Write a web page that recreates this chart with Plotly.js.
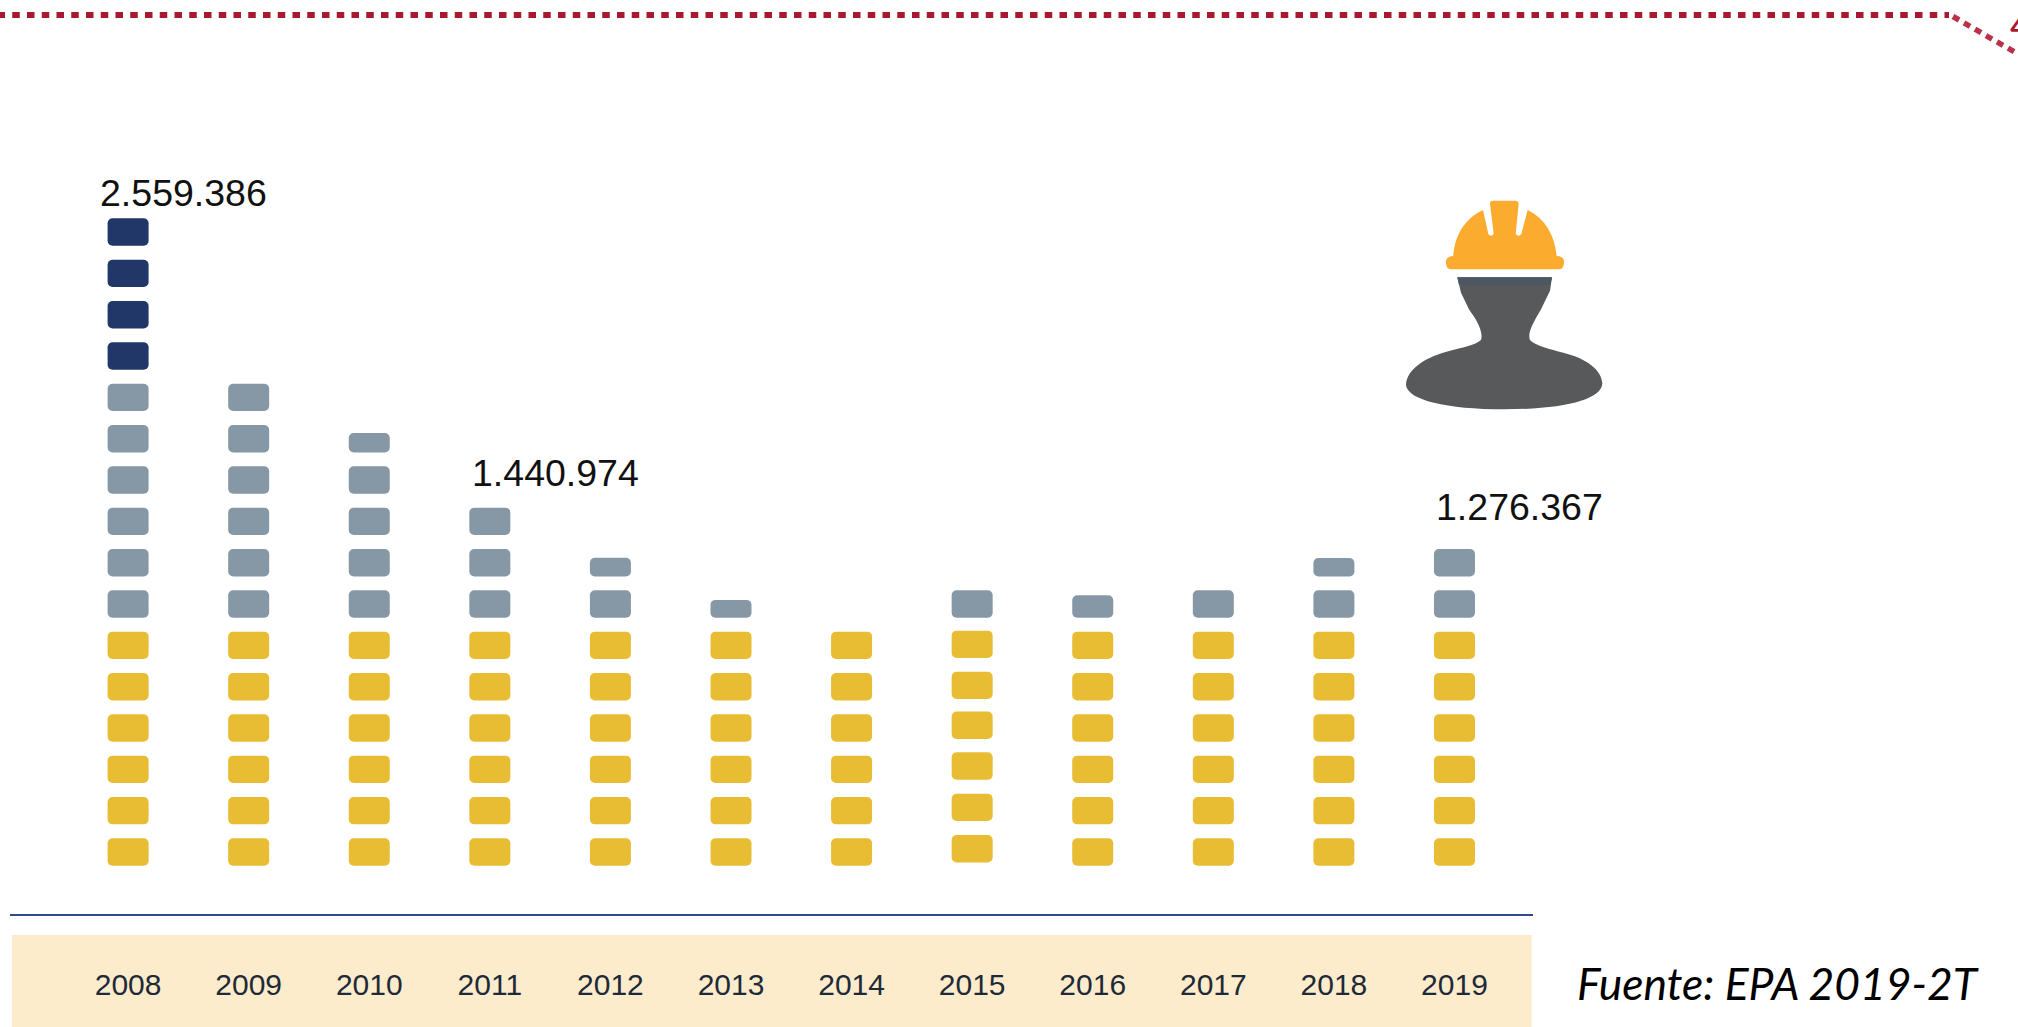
<!DOCTYPE html>
<html>
<head>
<meta charset="utf-8">
<script src="https://cdn.plot.ly/plotly-3.0.1.min.js"></script>
<style>html,body{margin:0;padding:0;background:#fff;overflow:hidden}#chart{width:2018px;height:1027px}</style>
</head>
<body>
<div id="chart"></div>
<script>
// Each full square stands for about 160.000 people; a fraction is a partly filled square.
const years = [2008, 2009, 2010, 2011, 2012, 2013, 2014, 2015, 2016, 2017, 2018, 2019];
const yellowUnits = [6, 6, 6, 6, 6, 6, 6, 6, 6, 6, 6, 6];
const greyUnits = [6, 6, 4.71, 3, 1.68, 0.65, 0, 1, 0.82, 1, 1.67, 2];
const navyUnits = [4, 0, 0, 0, 0, 0, 0, 0, 0, 0, 0, 0];
const labelYears = [2008, 2011, 2019];
const labelTexts = ['2.559.386', '1.440.974', '1.276.367'];
const sourceText = 'Fuente: EPA 2019-2T';
const pageNumber = '4';

// Layout, in page pixels
const W = 2018, H = 1027;
const colX0 = 128.1, colStep = 120.58;
const axisY = 914, axisL = 10, axisR = 1533;
const rowStep = 41.33, row0Bottom = 865.7, squareH = 27.4, squareW = 41;
const hUnit = squareH / rowStep;

const px = v => v / W;
const py = v => 1 - v / H;
const xOf = p => years[0] + (p - colX0) / colStep;

// The 2015 column is drawn slightly raised in its lower rows
const raised = {2015: [3.3, 3.3, 3.3, 2.7, 1.3, 1.0]};

function squares(units, startUnits) {
  const xs = [], bases = [], hs = [];
  years.forEach((yr, i) => {
    const start = startUnits ? startUnits[i] : 0;
    let left = units[i], row = Math.floor(start + 0.001);
    while (left > 0.001) {
      const fill = Math.min(left, 1);
      const lift = (raised[yr] && raised[yr][row]) || 0;
      xs.push(yr);
      bases.push(row + lift / rowStep);
      hs.push(fill * hUnit);
      left -= fill;
      row += 1;
    }
  });
  return {xs, bases, hs};
}

function barTrace(units, startUnits, color, name) {
  const s = squares(units, startUnits);
  return {
    type: 'bar', name: name, x: s.xs, y: s.hs, base: s.bases,
    width: squareW / colStep, marker: {color: color, line: {width: 0}},
    hoverinfo: 'x', showlegend: false
  };
}

const data = [
  barTrace(yellowUnits, null, '#e8bd33', 'a'),
  barTrace(greyUnits, yellowUnits, '#8698a6', 'b'),
  barTrace(navyUnits, yellowUnits.map((v, i) => v + greyUnits[i]), '#203768', 'c')
];

// Value labels: offsets from the top of each column, in pixels
const labelOffsets = {2008: [55, 25.6], 2011: [66, 35], 2019: [65, 42]};
const annotations = labelYears.map((yr, k) => {
  const i = years.indexOf(yr);
  const total = yellowUnits[i] + greyUnits[i] + navyUnits[i];
  return {
    xref: 'x', yref: 'y', x: yr, y: total - 1 + hUnit,
    xshift: labelOffsets[yr][0], yshift: labelOffsets[yr][1],
    text: labelTexts[k], showarrow: false, xanchor: 'center', yanchor: 'middle',
    font: {family: 'Liberation Sans, Arial, sans-serif', size: 37.5, color: '#111111'}
  };
});
annotations.push({
  xref: 'paper', yref: 'paper', x: px(1575), y: py(982),
  text: '<i>' + sourceText + '</i>', showarrow: false, xanchor: 'left', yanchor: 'middle',
  font: {family: 'Lato, sans-serif', size: 44.4, color: '#000000'}
});
annotations.push({
  xref: 'paper', yref: 'paper', x: px(2008), y: py(24),
  text: pageNumber, showarrow: false, xanchor: 'left', yanchor: 'middle',
  font: {family: 'Lato, sans-serif', size: 38, color: '#a6192e'}
});

// Icon outlines, written in a local 3x grid placed at (1350,170)
function iconPath(d) {
  return d.replace(/(-?\d+(?:\.\d+)?) (-?\d+(?:\.\d+)?)/g, (m, a, b) =>
    px(1350 + a / 3) + ',' + py(170 + b / 3));
}
const helmet = 'M 288 272 Q 292 258 310 258 C 314 195 345 145 399 120 L 415 192 Q 423 202 431 192 L 420 102 Q 420 92 430 92 L 495 92 Q 506 92 506 102 L 497 192 Q 505 202 514 192 L 533 120 C 585 145 614 195 620 258 Q 638 258 642 272 Q 644 298 625 298 L 305 298 Q 286 298 288 272 Z';
const person = 'M 322 322 L 606 322 L 600 362 L 572 420 C 548 460 532 490 540 510 C 558 528 600 538 640 548 C 710 565 755 600 757 640 C 755 690 640 718 462 718 C 290 718 172 690 168 645 C 170 595 230 560 300 542 C 340 532 375 526 393 510 C 400 490 385 455 358 420 L 333 368 Z';
const band = 'M 322 322 L 606 322 L 601 345 L 327 345 Z';

const shapes = [
  {type: 'rect', layer: 'below', xref: 'paper', yref: 'paper', x0: px(12), x1: px(1531.5), y0: py(935), y1: py(1027),
   fillcolor: '#fdeccb', line: {width: 0}},
  {type: 'line', xref: 'paper', yref: 'paper', x0: px(-2.5), x1: px(1949), y0: py(15), y1: py(15),
   line: {color: '#a6192e', width: 6, dash: '7.5px,7.25px'}},
  {type: 'line', xref: 'paper', yref: 'paper', x0: px(1953), x1: px(2018), y0: py(16.5), y1: py(54),
   line: {color: '#b8324a', width: 5.5, dash: '7px,5.7px'}},
  {type: 'path', xref: 'paper', yref: 'paper', path: iconPath(helmet), fillcolor: '#fbab2e', line: {width: 0}},
  {type: 'path', xref: 'paper', yref: 'paper', path: iconPath(person), fillcolor: '#58595b', line: {width: 0}},
  {type: 'path', xref: 'paper', yref: 'paper', path: iconPath(band), fillcolor: '#4c5762', line: {width: 0}}
];

const layout = {
  width: W, height: H,
  margin: {l: 0, r: 0, t: 0, b: 0, pad: 0},
  paper_bgcolor: '#ffffff', plot_bgcolor: 'rgba(0,0,0,0)',
  showlegend: false, barmode: 'overlay', barcornerradius: 5,
  xaxis: {
    domain: [px(axisL), px(axisR)], range: [xOf(axisL), xOf(axisR)],
    tickmode: 'array', tickvals: years, ticktext: years.map(String),
    ticks: 'outside', ticklen: 43, tickcolor: 'rgba(0,0,0,0)', tickwidth: 1,
    tickfont: {family: 'Liberation Sans, Arial, sans-serif', size: 30, color: '#1f2a38'},
    showline: true, linecolor: '#30498c', linewidth: 2, showgrid: false, zeroline: false,
    fixedrange: true, tickangle: 0
  },
  yaxis: {
    domain: [1 - axisY / H, 1],
    range: [(row0Bottom - axisY) / rowStep, row0Bottom / rowStep],
    visible: false, showgrid: false, zeroline: false, fixedrange: true
  },
  annotations: annotations,
  shapes: shapes
};

Plotly.newPlot('chart', data, layout, {displayModeBar: false, responsive: false});
</script>
</body>
</html>
